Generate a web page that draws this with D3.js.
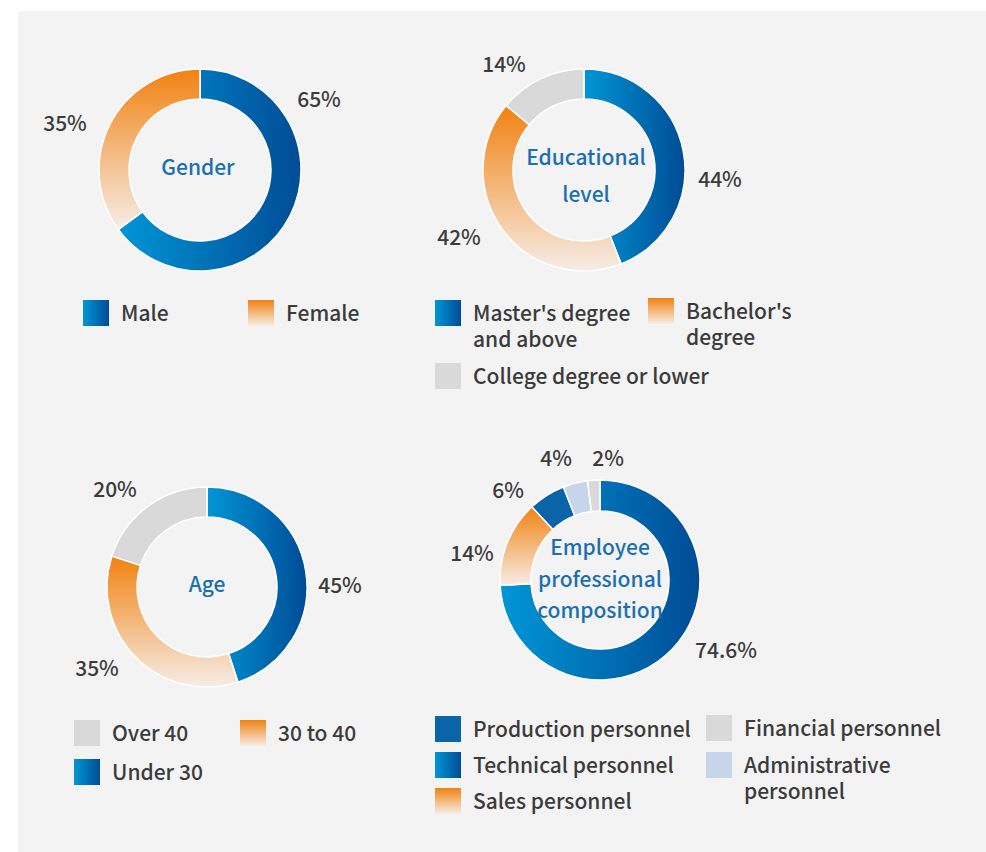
<!DOCTYPE html>
<html lang="en">
<head>
    <meta charset="UTF-8">
    <title>Employee structure</title>
    <script src="https://d3js.org/d3.v7.min.js"></script>
    <style>
        body {
            margin: 0;
            background: #fff;
        }

        text {
            font-family: "Noto Sans CJK SC", "Noto Sans", sans-serif;
            font-weight: 500;
        }

        .pct {
            fill: #3b3b3b;
            font-size: 21px;
        }

        .title {
            fill: #1b6fb1;
            font-size: 21px;
        }

        .legend text {
            fill: #3b3b3b;
            font-size: 21px;
        }
    </style>
</head>
<body>
<script>

    var width = 986,
        height = 852;

    // data
    var genderNames = ["Male", "Female"];
    var genderValues = [65, 35];

    var eduNames = ["Master's degree and above", "Bachelor's degree", "College degree or lower"];
    var eduValues = [44, 42, 14];

    var ageNames = ["Under 30", "30 to 40", "Over 40"];
    var ageValues = [45, 35, 20];

    var staffNames = ["Technical personnel", "Sales personnel", "Production personnel",
        "Administrative personnel", "Financial personnel"];
    var staffValues = [74.6, 14, 6, 4, 2];

    // fills by category
    var fills = {
        "Male": "url(#blueGrad)",
        "Female": "url(#orangeGrad)",
        "Master's degree and above": "url(#blueGrad)",
        "Bachelor's degree": "url(#orangeGrad)",
        "College degree or lower": "#d9d9d9",
        "Under 30": "url(#blueGrad)",
        "30 to 40": "url(#orangeGrad)",
        "Over 40": "#d9d9d9",
        "Technical personnel": "url(#blueGrad)",
        "Sales personnel": "url(#orangeGrad)",
        "Production personnel": "#0a64a8",
        "Administrative personnel": "#c6d5ea",
        "Financial personnel": "#d9d9d9"
    };

    // layout of each panel (label offsets are from the ring centre)
    var charts = [
        {
            names: genderNames, values: genderValues,
            cx: 200, cy: 170, r: 101, r0: 71,
            title: ["Gender"], titleY: [5], titleDx: -2,
            labelOff: [[119, -71], [-135, -47]],
            legend: [
                {name: "Male", x: 83, y: 300, lines: ["Male"]},
                {name: "Female", x: 248, y: 300, lines: ["Female"]}
            ]
        },
        {
            names: eduNames, values: eduValues,
            cx: 584, cy: 170, r: 101, r0: 71,
            title: ["Educational", "level"], titleY: [-5, 32], titleDx: 2,
            labelOff: [[136, 9], [-125, 67], [-80, -106]],
            legend: [
                {name: eduNames[0], x: 435, y: 300, lines: ["Master's degree", "and above"]},
                {name: eduNames[1], x: 648, y: 298, lines: ["Bachelor's", "degree"]},
                {name: eduNames[2], x: 435, y: 363, lines: ["College degree or lower"]}
            ]
        },
        {
            names: ageNames, values: ageValues,
            cx: 207, cy: 587, r: 100, r0: 70,
            title: ["Age"], titleY: [5], titleDx: 0,
            labelOff: [[133, -2], [-110, 81], [-92, -98]],
            legend: [
                {name: "Over 40", x: 74, y: 720, lines: ["Over 40"]},
                {name: "30 to 40", x: 240, y: 720, lines: ["30 to 40"]},
                {name: "Under 30", x: 74, y: 759, lines: ["Under 30"]}
            ]
        },
        {
            names: staffNames, values: staffValues,
            cx: 600, cy: 580, r: 100, r0: 69,
            title: ["Employee", "professional", "composition"], titleY: [-25, 7, 38], titleDx: 0,
            labelOff: [[126, 70], [-128, -27], [-92, -90], [-44, -122], [8, -122]],
            legend: [
                {name: "Production personnel", x: 435, y: 716, lines: ["Production personnel"]},
                {name: "Technical personnel", x: 435, y: 752, lines: ["Technical personnel"]},
                {name: "Sales personnel", x: 435, y: 788, lines: ["Sales personnel"]},
                {name: "Financial personnel", x: 706, y: 715, lines: ["Financial personnel"]},
                {name: "Administrative personnel", x: 706, y: 752, lines: ["Administrative", "personnel"]}
            ]
        }
    ];

    var svg = d3.select("body").append("svg")
        .attr("width", width)
        .attr("height", height);

    var defs = svg.append("defs");

    var blue = defs.append("linearGradient")
        .attr("id", "blueGrad")
        .attr("x1", 0).attr("y1", 0).attr("x2", 1).attr("y2", 0);
    blue.append("stop").attr("offset", "0%").attr("stop-color", "#0096d6");
    blue.append("stop").attr("offset", "100%").attr("stop-color", "#004c95");

    var orange = defs.append("linearGradient")
        .attr("id", "orangeGrad")
        .attr("x1", 0).attr("y1", 0).attr("x2", 0).attr("y2", 1);
    orange.append("stop").attr("offset", "0%").attr("stop-color", "#f18212");
    orange.append("stop").attr("offset", "100%").attr("stop-color", "#f6ede6");

    // panel background
    svg.append("rect")
        .attr("x", 18)
        .attr("y", 11)
        .attr("width", width - 18)
        .attr("height", height - 11)
        .attr("fill", "#f3f3f3");

    var pie = d3.pie().sort(null).value(function(d) { return d.value; });

    charts.forEach(function(c) {
        var rows = c.names.map(function(n, i) { return {name: n, value: c.values[i]}; });

        var arc = d3.arc().innerRadius(c.r0).outerRadius(c.r);

        var g = svg.append("g")
            .attr("transform", "translate(" + c.cx + "," + c.cy + ")");

        g.selectAll("path")
            .data(pie(rows))
            .enter()
            .append("path")
            .attr("d", arc)
            .attr("fill", function(d) { return fills[d.data.name]; })
            .attr("stroke", "#fff")
            .attr("stroke-width", 1.5);

        g.selectAll(".pct")
            .data(rows)
            .enter()
            .append("text")
            .attr("class", "pct")
            .attr("x", function(d, i) { return c.labelOff[i][0]; })
            .attr("y", function(d, i) { return c.labelOff[i][1]; })
            .attr("dy", "0.36em")
            .attr("text-anchor", "middle")
            .text(function(d) { return d.value + "%"; });

        // centre title as one text, one tspan per line
        g.append("text")
            .attr("class", "title")
            .attr("text-anchor", "middle")
            .selectAll("tspan")
            .data(c.title)
            .enter()
            .append("tspan")
            .attr("x", c.titleDx)
            .attr("y", function(d, i) { return c.titleY[i]; })
            .text(function(d) { return d; });

        var leg = svg.append("g")
            .attr("class", "legend")
            .selectAll("g")
            .data(c.legend)
            .enter()
            .append("g")
            .attr("transform", function(d) { return "translate(" + d.x + "," + d.y + ")"; });

        leg.append("rect")
            .attr("width", 26)
            .attr("height", 26)
            .attr("fill", function(d) { return fills[d.name]; });

        leg.append("text")
            .selectAll("tspan")
            .data(function(d) { return d.lines; })
            .enter()
            .append("tspan")
            .attr("x", 38)
            .attr("y", function(t, i) { return 21 + i * 26; })
            .text(function(t) { return t; });
    });

</script>
</body>
</html>
